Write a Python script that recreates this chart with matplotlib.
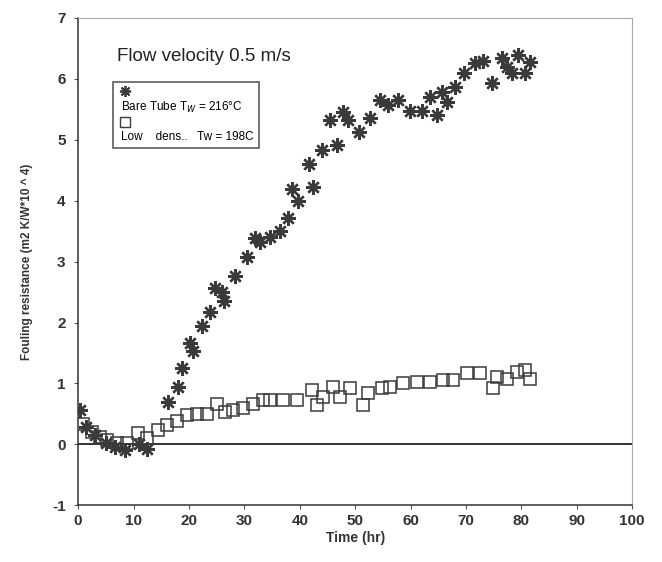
import matplotlib
matplotlib.use('Agg')
import matplotlib.pyplot as plt
from matplotlib.lines import Line2D

plt.rcParams['font.family'] = ['Liberation Sans', 'DejaVu Sans']
plt.rcParams['axes.unicode_minus'] = False

# Bare tube, Tw = 216 C  (time in hr, fouling resistance m2K/W*10^4)
bare_time = [0.3, 1.4, 3.0, 5.0, 6.7, 8.5, 11.0, 12.5, 16.2, 18.0, 18.8, 20.2,
             20.8, 22.4, 23.8, 24.7, 26.0, 26.4, 28.3, 30.5, 32.0, 32.9, 34.7,
             36.5, 37.9, 38.6, 39.7, 41.7, 42.4, 44.0, 45.5, 46.7, 47.8, 48.7,
             50.7, 52.7, 54.5, 56.0, 57.8, 59.9, 62.0, 63.5, 64.8, 65.7, 66.6,
             68.0, 69.7, 71.7, 73.1, 74.7, 76.5, 77.4, 78.3, 79.4, 80.7, 81.6]
bare_rf = [0.56, 0.28, 0.15, 0.03, -0.05, -0.1, 0.0, -0.08, 0.69, 0.94, 1.25, 1.66,
           1.54, 1.95, 2.17, 2.56, 2.5, 2.36, 2.77, 3.07, 3.38, 3.32, 3.4,
           3.51, 3.71, 4.2, 4.0, 4.6, 4.22, 4.83, 5.32, 4.91, 5.45, 5.32,
           5.12, 5.35, 5.65, 5.57, 5.66, 5.48, 5.48, 5.7, 5.4, 5.78, 5.62,
           5.86, 6.1, 6.26, 6.3, 5.94, 6.35, 6.19, 6.09, 6.39, 6.09, 6.27]

# Low density tube, Tw = 198 C
low_time = [0.9, 2.5, 4.0, 5.2, 7.0, 8.8, 10.8, 12.5, 14.4, 16.0, 17.9, 19.7,
            21.5, 23.3, 25.0, 26.5, 28.0, 29.8, 31.6, 33.4, 34.7, 37.0, 39.5,
            42.2, 43.1, 44.2, 46.0, 47.3, 49.1, 51.4, 52.3, 54.9, 56.3, 58.7,
            61.2, 63.5, 65.9, 67.7, 70.2, 72.6, 74.9, 75.6, 77.4, 79.2, 80.7, 81.6]
low_rf = [0.34, 0.2, 0.12, 0.07, 0.02, 0.03, 0.18, 0.1, 0.23, 0.31, 0.39, 0.48,
          0.5, 0.5, 0.67, 0.53, 0.56, 0.59, 0.67, 0.72, 0.72, 0.72, 0.72,
          0.89, 0.64, 0.77, 0.94, 0.77, 0.92, 0.64, 0.84, 0.92, 0.94, 1.0,
          1.02, 1.02, 1.05, 1.05, 1.17, 1.17, 0.92, 1.1, 1.08, 1.18, 1.22, 1.08]

x_ticks = [0, 10, 20, 30, 40, 50, 60, 70, 80, 90, 100]
y_ticks = [-1, 0, 1, 2, 3, 4, 5, 6, 7]

fig = plt.figure(figsize=(6.62, 5.62), dpi=100)
ax = fig.add_axes([0.118, 0.101, 0.837, 0.867])

ax.axhline(0, color='#222222', lw=1.3, zorder=1)

ax.plot(bare_time, bare_rf, ls='none', marker=(8, 2, 0), ms=10.5, mew=1.7,
        color='#3a3a3a', zorder=3)
ax.plot(low_time, low_rf, ls='none', marker='s', ms=8.5, mew=1.1,
        mfc='none', mec='#3a3a3a', zorder=2)

ax.set_xlim(0, 100)
ax.set_ylim(-1, 7)
ax.set_xticks(x_ticks)
ax.set_yticks(y_ticks)
ax.tick_params(labelsize=11, length=3, width=0.8, color='#555555')
ax.tick_params(axis='y', pad=6)
for lab in ax.get_xticklabels() + ax.get_yticklabels():
    lab.set_fontweight('bold')
    lab.set_color('#333333')

for side in ['left', 'bottom']:
    ax.spines[side].set_color('#333333')
    ax.spines[side].set_linewidth(1.1)
for side in ['top', 'right']:
    ax.spines[side].set_color('#aaaaaa')
    ax.spines[side].set_linewidth(0.8)

ax.set_xlabel('Time (hr)', fontsize=10, fontweight='bold', color='#333333', labelpad=2)
ax.set_ylabel('Fouling resistance (m2 K/W*10 ^ 4)', fontsize=8.5, fontweight='bold',
              color='#333333', labelpad=14)

ax.text(0.07, 0.92, 'Flow velocity 0.5 m/s', transform=ax.transAxes,
        fontsize=13.5, color='#222222', va='center')

# legend: marker on one row, text on the row below
blank = Line2D([], [], ls='none')
h_bare = Line2D([], [], ls='none', marker=(8, 2, 0), ms=8, mew=1.3, color='#3a3a3a')
h_low = Line2D([], [], ls='none', marker='s', ms=7.5, mew=1.0, mfc='none', mec='#3a3a3a')
leg = ax.legend([h_bare, blank, h_low, blank],
                ['', 'Bare Tube T$_W$ = 216°C', '', 'Low    dens..   Tw = 198C'],
                loc='upper left', bbox_to_anchor=(0.063, 0.869), borderaxespad=0,
                fontsize=8.5, handlelength=1.3, handletextpad=-1.0,
                labelspacing=0.15, borderpad=0.4, fancybox=False,
                frameon=True, edgecolor='#444444')
leg.get_frame().set_linewidth(1.3)

fig.savefig('out.png', dpi=100)
